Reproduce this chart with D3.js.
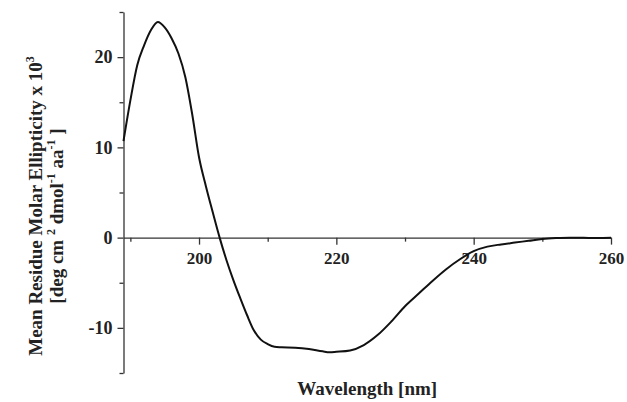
<!DOCTYPE html>
<html>
<head>
<meta charset="utf-8">
<script src="https://cdn.jsdelivr.net/npm/d3@7/dist/d3.min.js"></script>
<style>
  body { margin: 0; background: #fff; }
  svg text { font-family: "Liberation Serif", "Times New Roman", serif; font-weight: bold; fill: #222; }
  .axis path, .axis line { stroke: #333; stroke-width: 1.3; }
</style>
</head>
<body>
<div id="chart"></div>
<script>
'use strict';

// CD spectrum
var wavelength = [189, 190, 191, 192, 193, 194, 195, 196, 197, 198, 199, 200, 201, 202, 203,
    204, 205, 206, 207, 208, 209, 210, 211, 212, 214, 216, 218, 219, 220, 222, 224, 226, 228,
    230, 232, 234, 236, 238, 240, 242, 244, 246, 248, 250, 252, 254, 256, 258, 260];
var ellipticity = [10.7, 15.2, 19.1, 21.3, 23.0, 23.9, 23.3, 22.1, 20.4, 17.8, 13.7, 8.9, 5.7, 2.8, 0.0,
    -2.5, -4.7, -6.7, -8.6, -10.3, -11.3, -11.8, -12.1, -12.15, -12.2, -12.35, -12.6, -12.7, -12.65, -12.5, -11.9, -10.8, -9.3,
    -7.6, -6.2, -4.8, -3.5, -2.4, -1.5, -1.0, -0.75, -0.55, -0.35, -0.15, -0.05, 0.0, -0.02, -0.05, -0.02];

var xMajor = [200, 220, 240, 260];
var xMinor = [190, 210, 230, 250];
var yMajor = [-10, 0, 10, 20];
var yMinor = [-15, -5, 5, 15, 25];

var width = 627;
var height = 402;
var margin = {top: 12, right: 16, bottom: 29, left: 123.5};

var svg = d3.select('#chart').append('svg')
    .attr('width', width)
    .attr('height', height);

var x = d3.scaleLinear().domain([189, 260]).range([margin.left, width - margin.right]);
var y = d3.scaleLinear().domain([-15, 25]).range([height - margin.bottom, margin.top]);

// plain hyphen for negatives, like the original
var fmt = function(d) { return String(d); };

// x axis sits on y = 0
var xg = svg.append('g').attr('class', 'axis')
    .attr('transform', 'translate(0,' + y(0) + ')');
xg.call(d3.axisBottom(x).tickValues(xMajor).tickSize(7).tickSizeOuter(0).tickPadding(7).tickFormat(fmt));
xg.selectAll('text').style('font-size', '17px');
svg.append('g').attr('class', 'axis')
    .attr('transform', 'translate(0,' + y(0) + ')')
    .call(d3.axisBottom(x).tickValues(xMinor).tickSize(4).tickSizeOuter(0).tickFormat(''))
    .select('.domain').remove();

var yg = svg.append('g').attr('class', 'axis')
    .attr('transform', 'translate(' + margin.left + ',0)');
yg.call(d3.axisLeft(y).tickValues(yMajor).tickSize(6).tickSizeOuter(0).tickPadding(5).tickFormat(fmt));
yg.selectAll('text').style('font-size', '18px');
svg.append('g').attr('class', 'axis')
    .attr('transform', 'translate(' + margin.left + ',0)')
    .call(d3.axisLeft(y).tickValues(yMinor).tickSize(4).tickSizeOuter(0).tickFormat(''))
    .select('.domain').remove();

var line = d3.line()
    .x(function(d, i) { return x(wavelength[i]); })
    .y(function(d) { return y(d); })
    .curve(d3.curveMonotoneX);

svg.append('path')
    .datum(ellipticity)
    .attr('d', line)
    .attr('fill', 'none')
    .attr('stroke', '#111')
    .attr('stroke-width', 2);

// axis titles
svg.append('text')
    .attr('x', (margin.left + width - margin.right) / 2)
    .attr('y', 395)
    .attr('text-anchor', 'middle')
    .style('font-size', '19px')
    .text('Wavelength [nm]');

var cy = 206;
var t1 = svg.append('text')
    .attr('transform', 'translate(42,' + cy + ') rotate(-90)')
    .attr('text-anchor', 'middle')
    .style('font-size', '19px');
t1.append('tspan').text('Mean Residue Molar Ellipticity x 10');
t1.append('tspan').attr('dy', -8).style('font-size', '12px').text('3');

var t2 = svg.append('text')
    .attr('transform', 'translate(63,' + (cy + 10) + ') rotate(-90)')
    .attr('text-anchor', 'middle')
    .style('font-size', '19px');
t2.append('tspan').text('[deg cm ');
t2.append('tspan').attr('dy', -8).style('font-size', '12px').text('2');
t2.append('tspan').attr('dy', 8).text(' dmol');
t2.append('tspan').attr('dy', -8).style('font-size', '12px').text('-1');
t2.append('tspan').attr('dy', 8).text(' aa');
t2.append('tspan').attr('dy', -8).style('font-size', '12px').text('-1');
t2.append('tspan').attr('dy', 8).text(' ]');
</script>
</body>
</html>
